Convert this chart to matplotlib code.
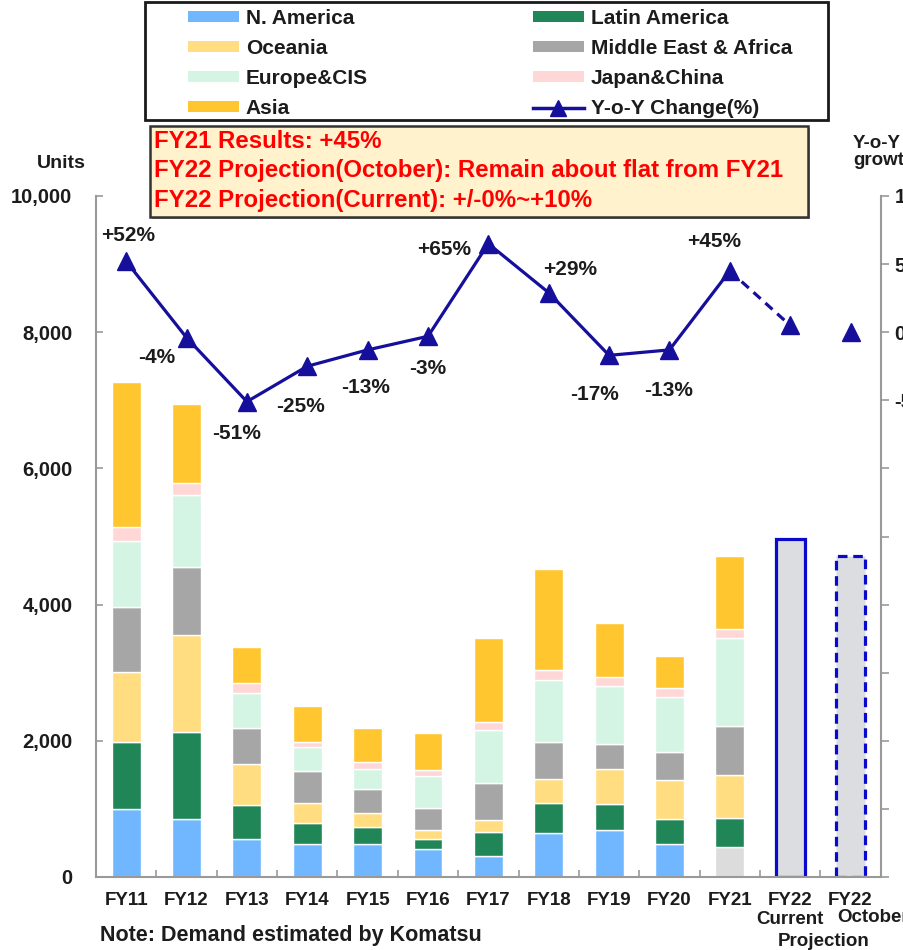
import matplotlib
matplotlib.use("Agg")
import matplotlib.pyplot as plt
from matplotlib.patches import Patch, Rectangle
from matplotlib.lines import Line2D
import numpy as np

# demand by region (units), FY11 - FY21
years = ["FY11", "FY12", "FY13", "FY14", "FY15", "FY16", "FY17", "FY18", "FY19", "FY20", "FY21"]
n_america = [1000, 850, 553, 480, 480, 411, 308, 641, 690, 480, 445]
latin_america = [980, 1275, 504, 317, 248, 147, 348, 450, 382, 367, 426]
oceania = [1035, 1425, 602, 283, 206, 132, 181, 353, 509, 577, 627]
middle_east_africa = [945, 1000, 534, 481, 358, 323, 539, 534, 372, 412, 719]
europe_cis = [980, 1055, 504, 343, 294, 470, 783, 915, 852, 803, 1293]
japan_china = [195, 185, 152, 78, 98, 88, 117, 147, 127, 136, 127]
asia = [2140, 1160, 533, 534, 504, 548, 1234, 1483, 802, 470, 1077]

# FY22 projections
proj_labels = ["FY22", "FY22"]
proj_units = [4970, 4720]          # current, october
proj_yoy = [5, 0]                  # current, october

# Y-o-Y change (%)
yoy = [52, -4, -51, -25, -13, -3, 65, 29, -17, -13, 45]
yoy_text = ["+52%", "-4%", "-51%", "-25%", "-13%", "-3%", "+65%", "+29%", "-17%", "-13%", "+45%"]

region_names = ["N. America", "Latin America", "Oceania", "Middle East & Africa",
                "Europe&CIS", "Japan&China", "Asia"]
region_colors = ["#70b7ff", "#208657", "#ffdd80", "#a6a6a6", "#d5f5e4", "#ffd7d7", "#ffc62f"]

# label offsets in pixels (dx, dy) for the Y-o-Y annotations
label_off = [(2, 26), (-30, -20), (-10, -32), (-7, -40), (-2, -38), (0, -32),
             (-44, -6), (21, 23), (-15, -39), (-1, -41), (-16, 29)]

BOLD = "bold"
TXT = "#1c1c1c"
NARROW = ["Liberation Sans Narrow", "Liberation Sans"]
plt.rcParams["font.family"] = ["Liberation Sans", "DejaVu Sans"]

fig = plt.figure(figsize=(9.04, 9.5), dpi=100)
ax = fig.add_axes([96 / 904, 1 - 877 / 950, (880.7 - 96) / 904, (877 - 196) / 950])
ax2 = ax.twinx()

n = len(years)
x = np.arange(n)
width = 0.48

series = [n_america, latin_america, oceania, middle_east_africa, europe_cis, japan_china, asia]
bottom = np.zeros(n)
for k, (vals, col) in enumerate(zip(series, region_colors)):
    cols = [col] * n
    if k == 0:
        cols[-1] = "#dcdcdc"   # FY21 N. America shown grey in the source
    ax.bar(x, vals, width, bottom=bottom, color=cols, edgecolor="white", linewidth=1)
    bottom += np.array(vals)

# projection bars
xp = np.array([n, n + 1])
ax.bar(xp[0], proj_units[0], width, color="#dcdde0", edgecolor="#0a0acc", linewidth=2.3)
ax.bar(xp[1], proj_units[1], width, color="#dcdde0", edgecolor="#0a0acc", linewidth=2.3,
       linestyle=(0, (3, 1.8)))

ax.set_xlim(-0.5, n + 1.5)
ax.set_ylim(0, 10000)
ax.set_yticks(np.arange(0, 10001, 2000))
ax.set_yticklabels(["{:,}".format(v) for v in range(0, 10001, 2000)],
                   fontsize=14.5, fontweight=BOLD, color=TXT)
ax.tick_params(axis="y", direction="in", length=5, width=1.2, color="#999999", pad=17)

ax.set_xticks(np.arange(-0.5, n + 1.6, 1))
ax.set_xticklabels([])
ax.tick_params(axis="x", which="major", direction="in", length=5, width=1.2, color="#999999")
ax.set_xticks(np.arange(n + 2), minor=True)
ax.set_xticklabels(years + proj_labels, minor=True, fontsize=13.5, fontweight=BOLD,
                   color=TXT, family=NARROW)
ax.tick_params(axis="x", which="minor", length=0, pad=11)

for s in ["top", "right"]:
    ax.spines[s].set_visible(False)
for s in ["left", "bottom"]:
    ax.spines[s].set_color("#999999")
    ax.spines[s].set_linewidth(1.5)

# Y-o-Y line
line_col = "#150f9b"
ax2.plot(x, yoy, color=line_col, lw=2.3, marker="^", ms=13.5, zorder=5)
ax2.plot([x[-1], xp[0]], [yoy[-1], proj_yoy[0]], color=line_col, lw=2.3, ls=(0, (3, 2)), zorder=5)
ax2.plot(xp, proj_yoy, color=line_col, lw=0, marker="^", ms=13.5, zorder=5)
for xi, yi, t, off in zip(x, yoy, yoy_text, label_off):
    ax2.annotate(t, (xi, yi), xytext=off, textcoords="offset pixels", ha="center", va="center",
                 fontsize=15, fontweight=BOLD, color=TXT)

ax2.set_ylim(-400, 100)
rt = np.arange(-400, 101, 50)
ax2.set_yticks(rt)
ax2.set_yticklabels([str(v) if v >= -50 else "" for v in rt], fontsize=14.5,
                    fontweight=BOLD, color=TXT)
ax2.tick_params(axis="y", direction="out", length=6, width=1.2, color="#999999", pad=4)
for s in ["top", "left", "bottom"]:
    ax2.spines[s].set_visible(False)
ax2.spines["right"].set_color("#999999")
ax2.spines["right"].set_linewidth(1.5)

# axis titles
fig.text(61 / 904, 1 - 163 / 950, "Units", ha="center", va="center", fontsize=14,
         fontweight=BOLD, color=TXT)
fig.text(853 / 904, 1 - 152 / 950, "Y-o-Y\ngrowth(%)", ha="left", va="center", fontsize=13.5,
         fontweight=BOLD, color=TXT, linespacing=1.05)

# x sub labels
fig.text(790 / 904, 1 - 919 / 950, "Current", ha="center", va="center", fontsize=13.5,
         fontweight=BOLD, color=TXT, family=NARROW)
fig.text(873 / 904, 1 - 917 / 950, "October", ha="center", va="center", fontsize=13.5,
         fontweight=BOLD, color=TXT, family=NARROW)
fig.text(824 / 904, 1 - 941 / 950, "Projection", ha="center", va="center", fontsize=13.5,
         fontweight=BOLD, color=TXT, family=NARROW)
fig.text(100 / 904, 1 - 935 / 950, "Note: Demand estimated by Komatsu", ha="left", va="center",
         fontsize=15.5, fontweight=BOLD, color=TXT, family=NARROW)

# legend
handles = []
for name, col in zip(region_names, region_colors):
    handles.append(Patch(facecolor=col, edgecolor="none", label=name))
handles.append(Line2D([], [], color=line_col, lw=2.5, marker="^", ms=11, label="Y-o-Y Change(%)"))
# order so that columns read like the source (row-major)
order = [0, 2, 4, 6, 1, 3, 5, 7]
leg = fig.legend([handles[i] for i in order], [handles[i].get_label() for i in order],
                 loc="upper left", bbox_to_anchor=(188 / 904, 1 - 9 / 950), ncol=2,
                 frameon=False, borderpad=0, borderaxespad=0, handlelength=2.45,
                 handleheight=0.47, handletextpad=0.33, labelspacing=0.53, columnspacing=7.9,
                 prop={"family": NARROW, "weight": "bold", "size": 15})
for t in leg.get_texts():
    t.set_color(TXT)
fig.patches.append(Rectangle((145 / 904, 1 - 120 / 950), 683 / 904, 118 / 950,
                             transform=fig.transFigure, fill=False, edgecolor="#1a1a1a",
                             linewidth=2))

# note box
fig.patches.append(Rectangle((152 / 904, 1 - 219 / 950), 658 / 904, 91 / 950,
                             transform=fig.transFigure, facecolor="#9a9a9a", edgecolor="none"))
fig.patches.append(Rectangle((150 / 904, 1 - 217 / 950), 658 / 904, 91 / 950,
                             transform=fig.transFigure, facecolor="#fff2cc", edgecolor="#333333",
                             linewidth=1.8))
note_lines = ["FY21 Results: +45%",
              "FY22 Projection(October): Remain about flat from FY21",
              "FY22 Projection(Current): +/-0%~+10%"]
for i, t in enumerate(note_lines):
    fig.text(154 / 904, 1 - (142 + 29 * i) / 950, t, ha="left", va="center", fontsize=17.3,
             fontweight=BOLD, color="#ff0000")

fig.savefig("out.png", dpi=100)
